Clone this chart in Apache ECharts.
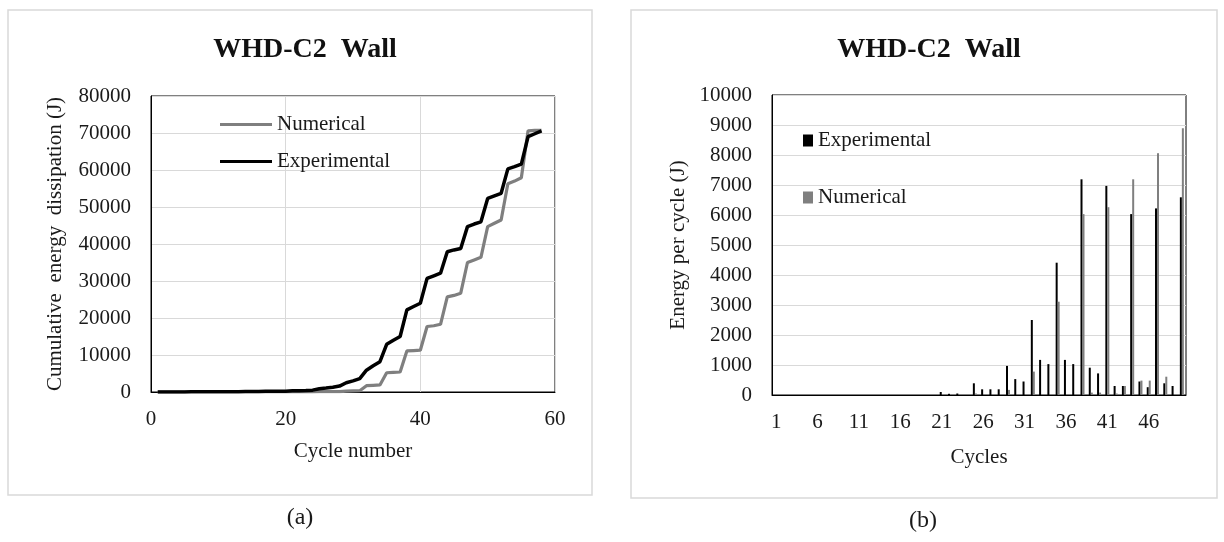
<!DOCTYPE html>
<html>
<head>
<meta charset="utf-8">
<script src="https://cdn.jsdelivr.net/npm/echarts@6/dist/echarts.min.js"></script>
<style>
  html, body { margin: 0; padding: 0; background: #fff; }
  #chart { width: 1224px; height: 542px; }
</style>
</head>
<body>
<div id="chart"></div>
<script>
// ---- (a) cumulative energy dissipation ----
const cycleNumbers = [1,2,3,4,5,6,7,8,9,10,11,12,13,14,15,16,17,18,19,20,
  21,22,23,24,25,26,27,28,29,30,31,32,33,34,35,36,37,38,39,40,
  41,42,43,44,45,46,47,48,49,50,51,52,53,54,55,56,57,58];
const cumulativeExperimental = [0,10,20,20,30,40,50,60,60,70,80,90,100,130,150,160,180,190,210,230,
  330,370,420,500,890,1080,1300,1600,2500,3000,3600,5900,7100,8200,12900,14000,15000,22200,23100,24000,
  30700,31400,32100,37900,38400,38800,44700,45400,46000,52300,53000,53700,60300,60900,61600,69000,69800,70600];
const cumulativeNumerical = [0,0,0,0,0,0,0,0,0,0,0,0,0,30,30,30,30,30,30,30,
  30,30,30,30,80,80,80,80,250,300,350,1700,1800,1900,5200,5300,5400,11100,11200,11300,
  17700,17900,18300,25700,26100,26700,35000,35700,36400,44700,45600,46500,56300,57000,57900,70600,70700,70700];
const cumulativeTicks = { xMin: 0, xMax: 60, xStep: 20, yMin: 0, yMax: 80000, yStep: 10000 };

// ---- (b) energy per cycle ----
const cycleLabels = ['1','2','3','4','5','6','7','8','9','10','11','12','13','14','15','16','17','18','19','20',
  '21','22','23','24','25','26','27','28','29','30','31','32','33','34','35','36','37','38','39','40',
  '41','42','43','44','45','46','47','48','49','50'];
const perCycleExperimental = [0,0,0,0,0,0,0,0,0,0,0,0,0,0,0,0,0,0,0,0,
  100,40,50,0,390,190,190,190,970,530,450,2500,1170,1030,4410,1170,1030,7190,910,720,
  6970,300,300,6030,450,260,6220,390,300,6590];
const perCycleNumerical = [0,0,0,0,0,0,0,0,0,0,0,0,0,30,0,0,0,0,0,0,
  0,0,0,0,50,0,0,0,170,0,0,780,0,0,3110,0,0,6030,80,80,
  6260,50,300,7190,480,480,8060,610,0,8890];
const perCycleTicks = { yMin: 0, yMax: 10000, yStep: 1000 };

const titleText = 'WHD-C2  Wall';
const BLACK = '#000000';
const GREY = '#7f7f7f';
const GRID_LINE = '#d9d9d9';
const FONT = '"Liberation Serif", "Times New Roman", serif';
const TEXT = '#1a1a1a';

// plain integers, no thousands separator
const plainNumber = (v) => String(v);

const tickStyle = { color: TEXT, fontFamily: FONT, fontSize: 21 };
const nameStyle = { color: TEXT, fontFamily: FONT, fontSize: 21 };

const chart = echarts.init(document.getElementById('chart'), null, { renderer: 'canvas' });

chart.setOption({
  animation: false,
  backgroundColor: '#ffffff',
  title: [
    { text: titleText, left: 300, top: 31, textAlign: 'center',
      textStyle: { fontFamily: FONT, fontSize: 28, fontWeight: 'bold', color: '#111' } },
    { text: titleText, left: 924, top: 31, textAlign: 'center',
      textStyle: { fontFamily: FONT, fontSize: 28, fontWeight: 'bold', color: '#111' } }
  ],
  legend: [
    { data: ['Numerical'], orient: 'vertical', left: 220, top: 114, padding: 0,
      icon: 'rect', itemWidth: 52, itemHeight: 3, selectedMode: false,
      textStyle: { fontFamily: FONT, fontSize: 21, color: TEXT } },
    { data: ['Experimental'], orient: 'vertical', left: 220, top: 151, padding: 0,
      icon: 'rect', itemWidth: 52, itemHeight: 3, selectedMode: false,
      textStyle: { fontFamily: FONT, fontSize: 21, color: TEXT } },
    { data: ['Experimental'], orient: 'vertical', left: 803, top: 130, padding: 0,
      icon: 'rect', itemWidth: 10, itemHeight: 12, selectedMode: false,
      textStyle: { fontFamily: FONT, fontSize: 21, color: TEXT } },
    { data: ['Numerical'], orient: 'vertical', left: 803, top: 187, padding: 0,
      icon: 'rect', itemWidth: 10, itemHeight: 12, selectedMode: false,
      textStyle: { fontFamily: FONT, fontSize: 21, color: TEXT } }
  ],
  grid: [
    { left: 151, right: 669, top: 96, bottom: 150, show: true,
      borderColor: '#000', borderWidth: 1, backgroundColor: 'transparent' },
    { left: 772, right: 38, top: 95, bottom: 147, show: true,
      borderColor: '#000', borderWidth: 1, backgroundColor: 'transparent' }
  ],
  xAxis: [
    { gridIndex: 0, type: 'value',
      min: cumulativeTicks.xMin, max: cumulativeTicks.xMax, interval: cumulativeTicks.xStep,
      name: 'Cycle number', nameLocation: 'middle', nameGap: 49, nameTextStyle: nameStyle,
      axisLine: { show: true, lineStyle: { color: '#000', width: 1 } },
      axisTick: { show: false },
      axisLabel: Object.assign({ margin: 17, formatter: plainNumber }, tickStyle),
      splitLine: { show: true, lineStyle: { color: GRID_LINE, width: 1 } } },
    { gridIndex: 1, type: 'category', data: cycleLabels,
      name: 'Cycles', nameLocation: 'middle', nameGap: 52, nameTextStyle: nameStyle,
      axisLine: { show: true, lineStyle: { color: '#000', width: 1 } },
      axisTick: { show: false },
      axisLabel: Object.assign({ margin: 17, interval: 4 }, tickStyle),
      splitLine: { show: false } }
  ],
  yAxis: [
    { gridIndex: 0, type: 'value',
      min: cumulativeTicks.yMin, max: cumulativeTicks.yMax, interval: cumulativeTicks.yStep,
      name: 'Cumulative  energy  dissipation (J)', nameLocation: 'middle', nameGap: 85,
      nameTextStyle: nameStyle,
      axisLine: { show: true, lineStyle: { color: '#000', width: 1 } },
      axisTick: { show: false },
      axisLabel: Object.assign({ margin: 20, formatter: plainNumber }, tickStyle),
      splitLine: { show: true, lineStyle: { color: GRID_LINE, width: 1 } } },
    { gridIndex: 1, type: 'value',
      min: perCycleTicks.yMin, max: perCycleTicks.yMax, interval: perCycleTicks.yStep,
      name: 'Energy per cycle (J)', nameLocation: 'middle', nameGap: 83,
      nameTextStyle: nameStyle,
      axisLine: { show: true, lineStyle: { color: '#000', width: 1 } },
      axisTick: { show: false },
      axisLabel: Object.assign({ margin: 20, formatter: plainNumber }, tickStyle),
      splitLine: { show: true, lineStyle: { color: GRID_LINE, width: 1 } } }
  ],
  series: [
    { name: 'Numerical', type: 'line', xAxisIndex: 0, yAxisIndex: 0,
      data: cycleNumbers.map((c, i) => [c, cumulativeNumerical[i]]),
      showSymbol: false, symbol: 'none', color: GREY,
      itemStyle: { color: GREY },
      lineStyle: { color: GREY, width: 3.2 }, z: 3 },
    { name: 'Experimental', type: 'line', xAxisIndex: 0, yAxisIndex: 0,
      data: cycleNumbers.map((c, i) => [c, cumulativeExperimental[i]]),
      showSymbol: false, symbol: 'none', color: BLACK,
      itemStyle: { color: BLACK },
      lineStyle: { color: BLACK, width: 3.5 }, z: 4 },
    { name: 'Experimental', type: 'bar', xAxisIndex: 1, yAxisIndex: 1,
      data: perCycleExperimental, color: BLACK, itemStyle: { color: BLACK },
      barWidth: 2, barGap: '0%' },
    { name: 'Numerical', type: 'bar', xAxisIndex: 1, yAxisIndex: 1,
      data: perCycleNumerical, color: GREY, itemStyle: { color: GREY },
      barWidth: 2, barGap: '0%' }
  ],
  graphic: [
    { type: 'rect', shape: { x: 8, y: 10, width: 584, height: 485 }, silent: true, z: -10,
      style: { fill: 'none', stroke: '#d9d9d9', lineWidth: 1.5 } },
    { type: 'rect', shape: { x: 631, y: 10, width: 586, height: 488 }, silent: true, z: -10,
      style: { fill: 'none', stroke: '#d9d9d9', lineWidth: 1.5 } },
    { type: 'text', x: 300, y: 518, silent: true,
      style: { text: '(a)', fontFamily: FONT, fontSize: 24, fill: TEXT,
               textAlign: 'center', textVerticalAlign: 'middle' } },
    { type: 'text', x: 923, y: 521, silent: true,
      style: { text: '(b)', fontFamily: FONT, fontSize: 24, fill: TEXT,
               textAlign: 'center', textVerticalAlign: 'middle' } }
  ]
});
</script>
</body>
</html>
